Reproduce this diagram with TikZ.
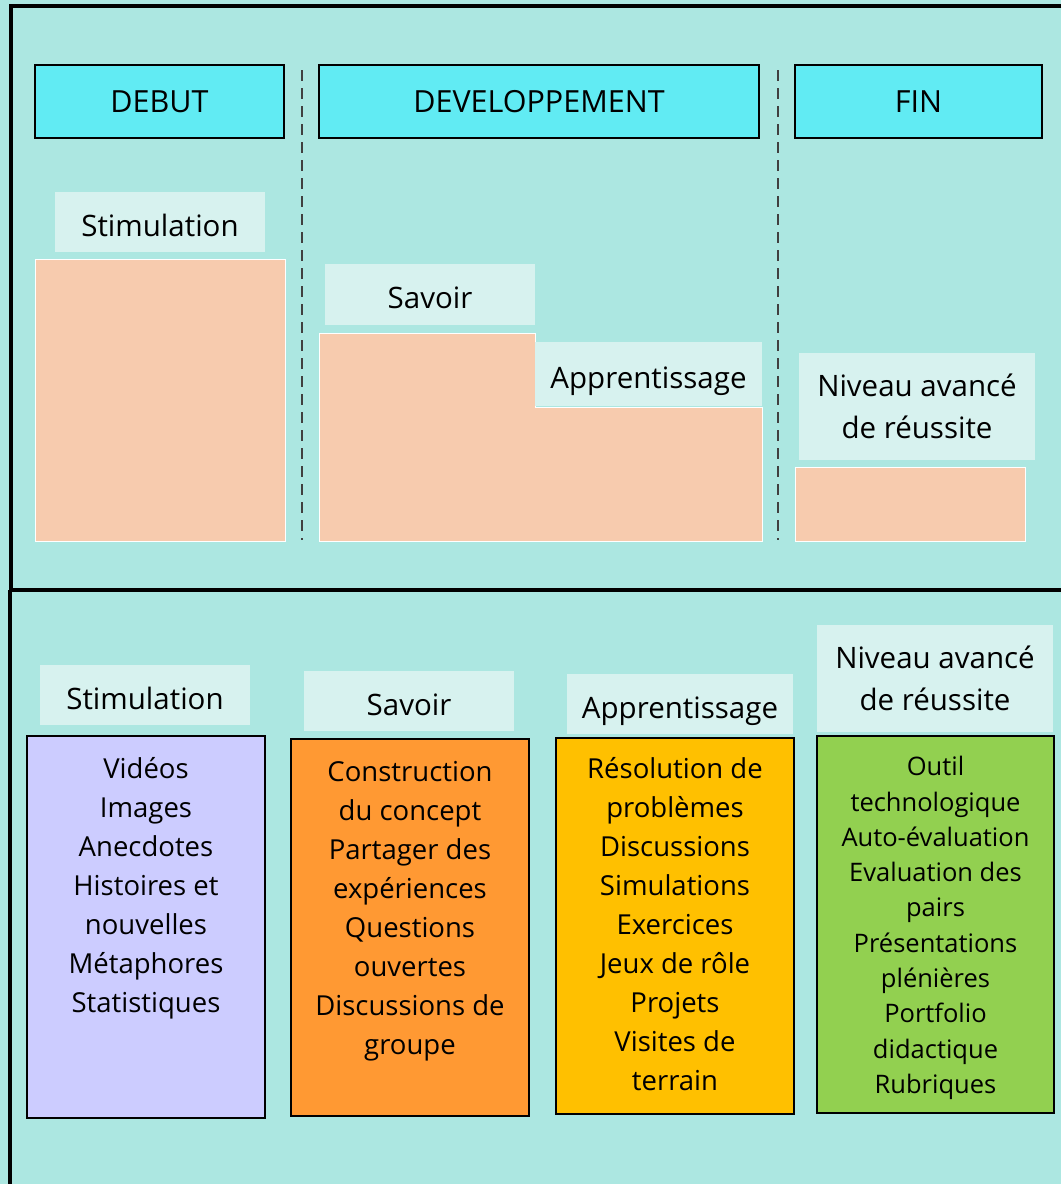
\documentclass[tikz,border=0pt]{standalone}
\usepackage{fontspec}
\setmainfont{Open Sans}
\definecolor{bgc}{HTML}{ACE7E1}
\definecolor{labc}{HTML}{D7F2EF}
\definecolor{headc}{HTML}{61EBF3}
\definecolor{peachc}{HTML}{F7CBAE}
\definecolor{lavc}{HTML}{CCCCFF}
\definecolor{orc}{HTML}{FF9933}
\definecolor{goldc}{HTML}{FFC000}
\definecolor{greenc}{HTML}{92D050}
\newcommand\bx[7]{\node[#6, minimum width={#4-#2}, minimum height={#5-#3}] (#1) at ({(#2+#4)/2},{(#3+#5)/2}) {#7};}
\tikzset{
  base/.style={inner sep=0pt, outer sep=0pt, align=center},
  head/.style={base, fill=headc, draw=black, line width=2pt, font=\fontsize{30.5}{36}\selectfont},
  lab/.style={base, fill=labc, font=\fontsize{29.5}{42}\selectfont},
  labone/.style={lab, text height=31pt, text depth=3pt},
  peach/.style={fill=peachc, draw=white, line width=1pt},
  bodybox/.style={base, draw=black, line width=2pt},
  body/.style={base, anchor=north, font=\fontsize{27.5}{39}\selectfont},
  bodysm/.style={base, anchor=north, font=\fontsize{25.5}{35.3}\selectfont},
  frame/.style={draw=black, line width=3.5pt},
  sep/.style={draw=black!75, line width=2pt, dash pattern=on 11pt off 7pt}
}
\begin{document}
\begin{tikzpicture}[x=1pt, y=-1pt]
\useasboundingbox (0,0) rectangle (1061,1184);
\fill[bgc] (0,0) rectangle (1061,1184);
% frame
\coordinate (ftl) at (11,6);
\coordinate (ftr) at (1061,6);
\coordinate (fml) at (10,590);
\coordinate (fmr) at (1061,590);
\coordinate (fbl) at (10,1184);
\draw[frame] (ftr) -- (ftl) -- (11,590);
\draw[frame, line width=4.5pt] (fml) -- (fmr);
\draw[frame] (fml) -- (fbl);
% dashed separators
\coordinate (d1a) at (302,70); \coordinate (d1b) at (302,540);
\coordinate (d2a) at (778,70); \coordinate (d2b) at (778,540);
\draw[sep] (d1a) -- (d1b);
\draw[sep] (d2a) -- (d2b);
% headers
\bx{hdebut}{35}{65}{284}{138}{head}{DEBUT}
\bx{hdev}{319}{65}{759}{138}{head}{DEVELOPPEMENT}
\bx{hfin}{795}{65}{1042}{138}{head}{FIN}
% peach blocks
\bx{pdebut}{35}{259}{285}{541}{peach}{}
\path[peach] (319,333) -- (535,333) -- (535,407) -- (762,407) -- (762,541) -- (319,541) -- cycle;
\bx{pfin}{795}{467}{1025}{541}{peach}{}
% top labels
\bx{tstim}{55}{192}{265}{252}{labone}{Stimulation}
\bx{tsav}{325}{264}{535}{325}{labone}{Savoir}
\bx{tapp}{535}{342}{762}{406}{labone}{Apprentissage}
\bx{tniv}{799}{353}{1035}{460}{lab}{Niveau avancé\\de réussite}
% lower labels
\bx{lstim}{40}{665}{250}{725}{labone}{Stimulation}
\bx{lsav}{304}{671}{514}{731}{labone}{Savoir}
\bx{lapp}{567}{674}{793}{734}{labone}{Apprentissage}
\bx{lniv}{817}{625}{1053}{732}{lab}{Niveau avancé\\de réussite}
% lower boxes
\bx{bstim}{27}{736}{265}{1118}{bodybox, fill=lavc}{}
\bx{bsav}{291}{739}{529}{1116}{bodybox, fill=orc}{}
\bx{bapp}{556}{738}{794}{1114}{bodybox, fill=goldc}{}
\bx{bniv}{817}{736}{1054}{1113}{bodybox, fill=greenc}{}
\node[body] (xstim) at (146,751) {\strut Vidéos\\Images\\Anecdotes\\Histoires et\\nouvelles\\Métaphores\\Statistiques};
\node[body] (xsav) at (410,754) {\strut Construction\\du concept\\Partager des\\expériences\\Questions\\ouvertes\\Discussions de\\groupe};
\node[body] (xapp) at (675,751) {\strut Résolution de\\problèmes\\Discussions\\Simulations\\Exercices\\Jeux de rôle\\Projets\\Visites de\\terrain};
\node[bodysm] (xniv) at (935.5,751) {\strut Outil\\technologique\\Auto-évaluation\\Evaluation des\\pairs\\Présentations\\plénières\\Portfolio\\didactique\\Rubriques};
\end{tikzpicture}
\end{document}
